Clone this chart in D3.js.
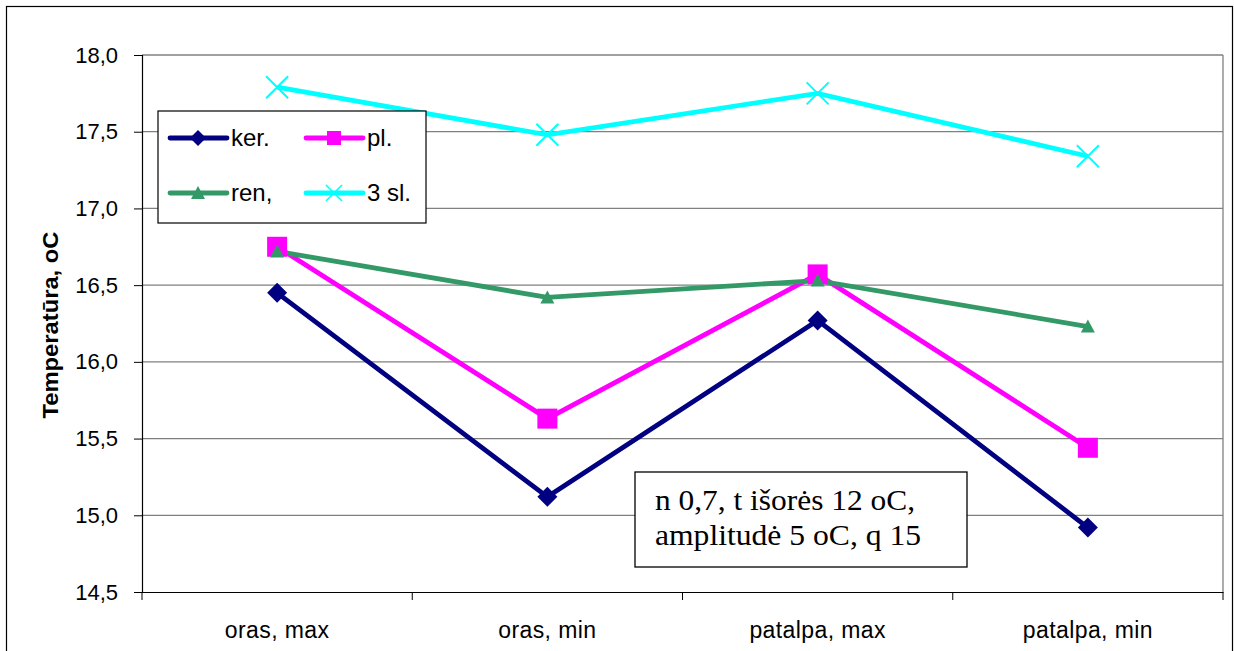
<!DOCTYPE html>
<html><head><meta charset="utf-8">
<script src="https://cdn.jsdelivr.net/npm/d3@7"></script>
<style>body{margin:0;background:#fff}svg{display:block}</style>
</head><body>
<svg id="c" width="1234" height="651"></svg>
<script>
const categories = ["oras, max", "oras, min", "patalpa, max", "patalpa, min"];
const seriesNames = ["ker.", "pl.", "ren,", "3 sl."];
const kerValues = [16.45, 15.12, 16.27, 14.92];
const plValues = [16.75, 15.63, 16.57, 15.44];
const renValues = [16.72, 16.42, 16.53, 16.23];
const slValues = [17.79, 17.48, 17.75, 17.34];
const yTicks = [14.5, 15.0, 15.5, 16.0, 16.5, 17.0, 17.5, 18.0];
const yTitle = "Temperatūra, oC";
const noteLines = ["n 0,7, t išorės 12 oC,", "amplitudė 5 oC, q 15"];

const series = [
  {name: seriesNames[0], values: kerValues, color: "#000080", marker: "diamond"},
  {name: seriesNames[1], values: plValues, color: "#FF00FF", marker: "square"},
  {name: seriesNames[2], values: renValues, color: "#339966", marker: "triangle"},
  {name: seriesNames[3], values: slValues, color: "#00FFFF", marker: "x"}
];

const SANS = "Liberation Sans, Arial, sans-serif";
const svg = d3.select("#c");
const L = 142, R = 1223, T = 55, B = 592;
svg.append("rect").attr("x", 6.5).attr("y", 6.5).attr("width", 1226).attr("height", 650)
  .attr("fill", "#fff").attr("stroke", "#000").attr("stroke-width", 1.2);

const x = d3.scaleBand().domain(categories).range([L, R]);
const y = d3.scaleLinear().domain([14.5, 18.0]).range([B, T]);

// gridlines
svg.append("g").selectAll("line").data(yTicks.slice(1)).join("line")
  .attr("x1", L).attr("x2", R).attr("y1", d => y(d)).attr("y2", d => y(d))
  .attr("stroke", "#808080").attr("stroke-width", 1.3);
svg.append("line").attr("x1", R).attr("x2", R).attr("y1", T).attr("y2", B)
  .attr("stroke", "#808080").attr("stroke-width", 1.3);

// y axis
const yAxis = svg.append("g").attr("transform", `translate(${L},0)`)
  .call(d3.axisLeft(y).tickValues(yTicks).tickSize(8).tickPadding(16)
    .tickFormat(d => d3.format(".1f")(d).replace(".", ",")));
yAxis.attr("font-size", null).attr("font-family", null);
yAxis.select(".domain").attr("stroke", "#000").attr("stroke-width", 1.2);
yAxis.selectAll("line").attr("stroke", "#000");
yAxis.selectAll("text").style("font-family", SANS).style("font-size", "22px").attr("fill", "#000");

// x axis
const xAxis = svg.append("g").attr("transform", `translate(0,${B})`)
  .call(d3.axisBottom(x).tickSize(0).tickPadding(30));
xAxis.attr("font-size", null).attr("font-family", null);
xAxis.select(".domain").attr("stroke", "#000").attr("stroke-width", 1.2);
xAxis.selectAll("text").style("font-family", SANS).style("font-size", "23px")
  .style("letter-spacing", "0.4px").attr("fill", "#000");
svg.append("g").selectAll("line").data(d3.range(categories.length + 1)).join("line")
  .attr("x1", i => L + i * x.step()).attr("x2", i => L + i * x.step())
  .attr("y1", B).attr("y2", B + 8).attr("stroke", "#000");

// y title
svg.append("text").attr("transform", "translate(58,325) rotate(-90) scale(1.08,1)")
  .attr("text-anchor", "middle").style("font-family", SANS)
  .style("font-size", "22px").attr("font-weight", "bold").text(yTitle);

function drawMarker(g, type, color) {
  if (type === "diamond") {
    g.append("path").attr("d", "M0,-10L10,0L0,10L-10,0Z").attr("fill", color);
  } else if (type === "square") {
    g.append("rect").attr("x", -10).attr("y", -10).attr("width", 20).attr("height", 20).attr("fill", color);
  } else if (type === "triangle") {
    g.append("path").attr("d", "M0,-7L7,6L-7,6Z").attr("fill", color);
  } else {
    g.append("path").attr("d", "M-11,-11L11,11M-11,11L11,-11").attr("stroke", color).attr("stroke-width", 2).attr("fill", "none");
  }
}

const line = d3.line().x((d, i) => x(categories[i]) + x.bandwidth() / 2).y(d => y(d));
series.forEach(s => {
  svg.append("path").datum(s.values).attr("d", line).attr("fill", "none")
    .attr("stroke", s.color).attr("stroke-width", 4.8);
});
series.forEach(s => {
  s.values.forEach((v, i) => {
    const g = svg.append("g").attr("transform", `translate(${x(categories[i]) + x.bandwidth() / 2},${y(v)})`);
    drawMarker(g, s.marker, s.color);
  });
});

// legend
const lg = svg.append("g");
lg.append("rect").attr("x", 158).attr("y", 111).attr("width", 268).attr("height", 112)
  .attr("fill", "#fff").attr("stroke", "#000").attr("stroke-width", 1.2);
const pos = [[170, 138], [306, 138], [170, 193], [306, 193]];
series.forEach((s, i) => {
  const [px, py] = pos[i];
  lg.append("line").attr("x1", px).attr("x2", px + 57).attr("y1", py).attr("y2", py)
    .attr("stroke", s.color).attr("stroke-width", 4.8).attr("stroke-linecap", "round");
  const g = lg.append("g").attr("transform", `translate(${px + 28},${py})`);
  if (s.marker === "square") {
    g.append("rect").attr("x", -7).attr("y", -7).attr("width", 14).attr("height", 14).attr("fill", s.color);
  } else if (s.marker === "diamond") {
    g.append("path").attr("d", "M0,-8L8,0L0,8L-8,0Z").attr("fill", s.color);
  } else if (s.marker === "triangle") {
    g.append("path").attr("d", "M0,-7L7,6L-7,6Z").attr("fill", s.color);
  } else {
    g.append("path").attr("d", "M-8,-8L8,8M-8,8L8,-8").attr("stroke", s.color).attr("stroke-width", 1.6);
  }
  lg.append("text").attr("x", px + 61).attr("y", py + 8)
    .style("font-family", SANS).style("font-size", "24px").text(s.name);
});

// note box
const nb = svg.append("g");
nb.append("rect").attr("x", 635).attr("y", 472).attr("width", 332).attr("height", 95)
  .attr("fill", "#fff").attr("stroke", "#000").attr("stroke-width", 1.3);
noteLines.forEach((t, i) => {
  nb.append("text").attr("x", 655).attr("y", 510 + i * 35)
    .style("font-family", "Liberation Serif, Times New Roman, serif").style("font-size", "30px")
    .attr("textLength", i === 0 ? 260 : 266).attr("lengthAdjust", "spacingAndGlyphs").text(t);
});
</script>
</body></html>
